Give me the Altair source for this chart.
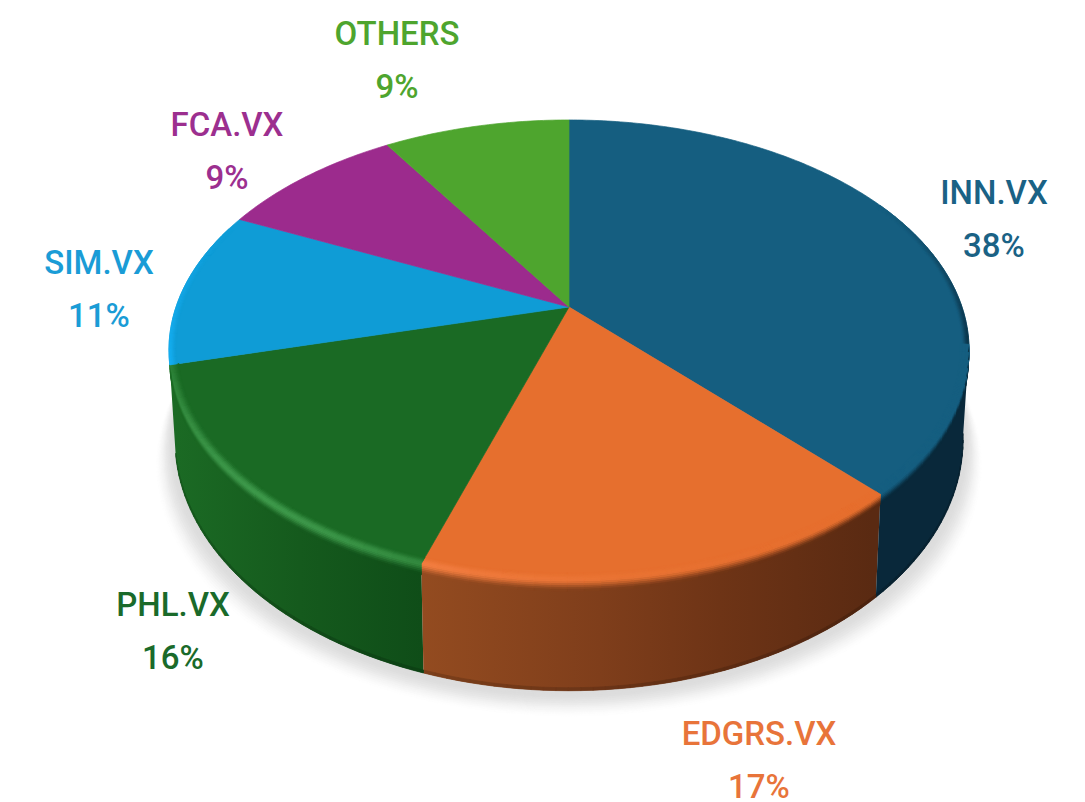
import math
import altair as alt

names = ["INN.VX", "EDGRS.VX", "PHL.VX", "SIM.VX", "FCA.VX", "OTHERS"]
shares = [38, 17, 16, 11, 9, 9]
face_colors = ["#155e80", "#e66f2e", "#1a6a24", "#0f9cd6", "#9c2b8d", "#4ea52e"]
ridge_colors = ["#155e80", "#f8854a", "#3f9a4c", "#14aef2", "#9c2b8d", "#4ea52e"]
label_colors = ["#1a6285", "#e8743a", "#1a6a2a", "#1a9cd6", "#9c2f8f", "#4ea52e"]
label_x = [994, 759, 173, 99, 227, 397]
label_y = [194, 735, 606, 264, 126, 35]
line_gap = 53
wall_stops = [
    [(0, "#09283a"), (1100, "#09283a")],
    [(423, "#934b20"), (600, "#7f3e1b"), (720, "#6e3416"), (872, "#5a2a12")],
    [(176, "#1b6a24"), (300, "#155a1d"), (423, "#0f4d18")],
    [(0, "#14a8ec"), (1100, "#14a8ec")],
]

# view geometry of the tilted disc
CX, AY, R, TILT, B = 569, 307, 393, 0.187, -164.6
WALL_FROM, WALL_TO = 100, 255.6


def top(theta, r=1.0):
    a = math.radians(theta)
    u, v = r * math.sin(a), r * math.cos(a)
    w = 1 + TILT * v
    return CX + R * u / w, (AY + B * v) / w


def bottom(theta):
    x, y = top(theta)
    return CX + (x - CX) * 0.985, y + 103 + 0.09 * (y - 495)


def rgb(h):
    return [int(h[i:i + 2], 16) for i in (1, 3, 5)]


def mix(a, b, t):
    t = max(0.0, min(1.0, t))
    ca, cb = rgb(a), rgb(b)
    return "#%02x%02x%02x" % tuple(round(p + (q - p) * t) for p, q in zip(ca, cb))


def wall_color(i, x):
    stops = wall_stops[i]
    if x <= stops[0][0]:
        return stops[0][1]
    for (x0, c0), (x1, c1) in zip(stops, stops[1:]):
        if x <= x1:
            return mix(c0, c1, (x - x0) / (x1 - x0))
    return stops[-1][1]


def feat(points, fill):
    pts = [[round(p[0], 2), round(p[1], 2)] for p in points]
    pts.append(pts[0])
    return {
        "type": "Feature",
        "geometry": {"type": "Polygon", "coordinates": [pts]},
        "properties": {},
        "fill": fill,
    }


def frange(a, b, step):
    n = max(1, int(math.ceil((b - a) / step)))
    return [a + (b - a) * k / n for k in range(n + 1)]


def smooth(t):
    return 0.5 - 0.5 * math.cos(math.pi * max(0.0, min(1.0, t)))


edges = [0]
for s in shares:
    edges.append(edges[-1] + s * 3.6)

# soft shadow under the disc
shadow = []
N = 14
for k in range(N, 0, -1):
    f = k / N
    pts = []
    for t in frange(0, 360, 4):
        x, y = bottom(t)
        pts.append((CX + (x - CX) * (1 + 0.05 * f), y + 1 + 26 * f))
    shadow.append(feat(pts, mix("#ffffff", "#dcdcdc", smooth(1.05 - f))))

wall_layers, wall_edges, rims, faces = [], [], [], []
levels = [-1 + k / 6 for k in range(13)]


def rim_point(t, s, inner, outer):
    if s <= 0:
        return top(t, 1 + s * inner)
    x, y = top(t)
    bx, by = bottom(t)
    return x + (bx - x) * s * outer, y + (by - y) * s * outer


for i in range(len(shares)):
    t0, t1 = edges[i], edges[i + 1]
    faces.append(feat([(CX, AY)] + [top(t) for t in frange(t0, t1, 0.75)], face_colors[i]))
    if i >= len(wall_stops):
        continue
    lo, hi = max(t0, WALL_FROM), min(t1, WALL_TO)
    front = frange(lo, hi, 1.5) if hi - lo > 0.01 else []
    if front:
        poly = [top(t) for t in front] + [bottom(t) for t in reversed(front)]
        xs = [p[0] for p in poly]
        x_min, x_max = min(xs), max(xs)
        stops = [
            alt.GradientStop(offset=max(0, min(1, (x - x_min) / (x_max - x_min))), color=c)
            for x, c in wall_stops[i]
        ]
        wall_layers.append(
            alt.Chart(alt.Data(values=[feat(poly, "w")], format=alt.DataFormat(type="json")))
            .mark_geoshape(
                fill=alt.Gradient(gradient="linear", x1=0, x2=1, y1=0, y2=0, stops=stops),
                stroke=None,
            )
            .project(type="identity", scale=1, translate=[-8, -8])
        )
        for a, b in zip(front, front[1:]):
            pa, pb = bottom(a), bottom(b)
            wall_edges.append(
                feat(
                    [pa, pb, (pb[0], pb[1] - 3), (pa[0], pa[1] - 3)],
                    mix(wall_color(i, (pa[0] + pb[0]) / 2), "#000000", 0.16),
                )
            )
    # rounded rim between face and wall
    rim_ts = frange(max(t0, 60), min(t1, 292), 2) if min(t1, 292) > max(t0, 60) else []
    for a, b in zip(rim_ts, rim_ts[1:]):
        m = (a + b) / 2
        wc = wall_color(i, bottom(m)[0])
        if WALL_FROM <= m <= WALL_TO:
            h = math.exp(-(((m - 222) / 38) ** 2))
            hl = mix(face_colors[i], ridge_colors[i], h)
            for s0, s1 in zip(levels, levels[1:]):
                sm = (s0 + s1) / 2
                if sm <= 0:
                    col = mix(face_colors[i], hl, smooth(1 + sm))
                else:
                    col = mix(hl, wc, smooth(sm))
                rims.append(
                    feat(
                        [
                            rim_point(a, s0, 0.022, 0.1),
                            rim_point(b, s0, 0.022, 0.1),
                            rim_point(b, s1, 0.022, 0.1),
                            rim_point(a, s1, 0.022, 0.1),
                        ],
                        col,
                    )
                )
        else:
            # back edges only darken or brighten thinly towards the silhouette
            if m < WALL_FROM:
                fade = (m - 60) / (WALL_FROM - 60)
                edge = mix(face_colors[i], wc, fade * 0.8)
            else:
                fade = (292 - m) / (292 - WALL_TO)
                edge = mix(face_colors[i], ridge_colors[i], fade)
            for s0, s1 in zip(levels[:6], levels[1:7]):
                sm = (s0 + s1) / 2
                col = mix(face_colors[i], edge, smooth(1 + sm))
                rims.append(
                    feat(
                        [
                            rim_point(a, s0, 0.018, 0),
                            rim_point(b, s0, 0.018, 0),
                            rim_point(b, s1, 0.018, 0),
                            rim_point(a, s1, 0.018, 0),
                        ],
                        col,
                    )
                )

labels = []
for n, s, c, x, y in zip(names, shares, label_colors, label_x, label_y):
    labels.append({"text": n, "lon": x, "lat": y, "color": c})
    labels.append({"text": f"{s}%", "lon": x, "lat": y + line_gap, "color": c})

PROJ = dict(type="identity", scale=1, translate=[-8, -8])


def shapes(features, sw=0.7):
    return (
        alt.Chart(alt.Data(values=features, format=alt.DataFormat(type="json")))
        .mark_geoshape(strokeWidth=sw)
        .encode(
            color=alt.Color("fill:N", scale=None, legend=None),
            stroke=alt.Stroke("fill:N", scale=None, legend=None),
        )
        .project(**PROJ)
    )


text = (
    alt.Chart(alt.Data(values=labels))
    .mark_text(
        font="Roboto",
        fontSize=33,
        fontWeight=500,
        align="center",
        baseline="middle",
    )
    .encode(
        longitude="lon:Q",
        latitude="lat:Q",
        text="text:N",
        color=alt.Color("color:N", scale=None, legend=None),
    )
    .project(**PROJ)
)

chart = (
    alt.layer(
        shapes(shadow),
        *reversed(wall_layers),
        shapes(wall_edges),
        shapes(faces),
        shapes(rims),
        text,
    )
    .properties(width=1069, height=794, padding=0, background="white")
    .configure_view(stroke=None)
)
chart.save("out.html", embed_options={"renderer": "svg", "actions": False})
